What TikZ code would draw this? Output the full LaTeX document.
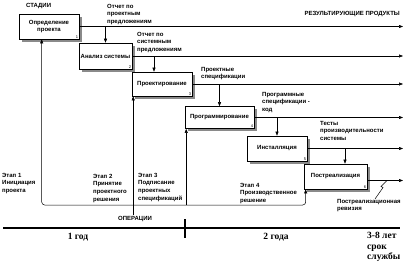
\documentclass[tikz,border=0pt]{standalone}
\usepackage{fontspec}
\setmainfont{Liberation Sans}
\newfontfamily\yearfont{Liberation Serif}
\usetikzlibrary{arrows.meta,positioning,shadows}
\definecolor{Ink}{HTML}{000000}
\definecolor{Shade}{HTML}{8A8A8A}
\newcommand\labfont{\bfseries\fontsize{6}{7.6}\selectfont}

\begin{document}
\begin{tikzpicture}[x=1pt,y=-1pt,
box/.style={draw=Ink,line width=0.6pt,fill=white,font=\labfont,align=center,inner sep=1pt,
  drop shadow={shadow xshift=2.5pt,shadow yshift=-2.5pt,fill=Shade,opacity=1}},
note/.style={font=\labfont,align=left,inner sep=0pt,anchor=north west},
num/.style={font=\fontsize{4}{4}\selectfont,anchor=south east,inner sep=1pt},
flow/.style={-{Triangle[length=4pt,width=3pt]},line width=0.5pt,draw=Ink},
year/.style={font=\yearfont\bfseries\fontsize{9.5}{10.5}\selectfont,align=left,inner sep=0pt}]
\useasboundingbox (0,0) rectangle (404,266);
% stages
\node[box,minimum width=60pt,minimum height=25pt] (b1) at (49,26.5) {Определение\\проекта};
\node[box,minimum width=53pt,minimum height=26pt] (b2) at (105.5,56) {Анализ системы};
\node[box,minimum width=60pt,minimum height=24pt] (b3) at (162,84) {Проектирование};
\node[box,minimum width=69pt,minimum height=22pt] (b4) at (219.5,117.5) {Программирование};
\node[box,minimum width=60pt,minimum height=25pt] (b5) at (277,148.5) {Инсталляция};
\node[box,minimum width=63pt,minimum height=25pt] (b6) at (335.5,176.5) {Постреализация};
\foreach \i in {1,...,6} \node[num] (n\i) at (b\i.south east) {\i};
% titles and labels
\node[note] (stages) at (26,3) {СТАДИИ};
\node[note,anchor=north east] (results) at (400,11) {РЕЗУЛЬТИРУЮЩИЕ ПРОДУКТЫ};
\node[note] (t1) at (107,4) {Отчет по\\проектным\\предложениям};
\node[note] (t2) at (137,32) {Отчет по\\системным\\предложениям};
\node[note] (t3) at (201,67) {Проектные\\спецификации};
\node[note] (t4) at (262,92) {Программные\\спецификации -\\код};
\node[note] (t5) at (320,121) {Тесты\\производительности\\системы};
\node[note] (t6) at (337,199) {Постреализационная\\ревизия};
\node[note] (s1) at (2,173) {Этап 1\\Инициация\\проекта};
\node[note] (s2) at (93,174) {Этап 2\\Принятие\\проектного\\решения};
\node[note] (s3) at (138,173) {Этап 3\\Подписание\\проектных\\спецификаций};
\node[note] (s4) at (240,183) {Этап 4\\Производственное\\решение};
\node[font=\labfont,inner sep=1pt] (ops) at (135,219) {ОПЕРАЦИИ};
% outputs
\coordinate (rim) at (403,0);
\draw[flow] (b1.east) -- (b1.east -| rim);
\draw[flow] (b2.east) -- (b2.east -| rim);
\draw[flow] (b3.east) -- (b3.east -| rim);
\draw[flow] (b4.east) -- (b4.east -| rim);
\draw[flow] (b5.east) -- (b5.east -| rim);
\draw[flow] ([yshift=-4pt]b6.east) coordinate (o6) -- (o6 -| rim);
% hand-over to next stage
\coordinate (d3) at ([xshift=-8pt]b3.north);
\coordinate (d6) at ([xshift=9.5pt]b6.north);
\draw[flow] (b1.east -| b2.north) -- (b2.north);
\draw[flow] (b2.east -| d3) -- (d3);
\draw[flow] (b3.east -| b4.north) -- (b4.north);
\draw[flow] (b4.east -| b5.north) -- (b5.north);
\draw[flow] (b5.east -| d6) -- (d6);
% squiggle to revision label
\coordinate (q) at (387,180.5);
\draw[line width=0.5pt] (q) -- ++(-6,6) -- ++(2,1) -- (t6.north -| 375,0);
% operations
\coordinate (m1) at ([xshift=23pt]b1.south west);
\coordinate (m3) at ([xshift=1.5pt]b3.south west);
\coordinate (m4) at ([xshift=1.5pt]b4.south west);
\coordinate (m6) at ([xshift=2pt]b6.south west);
\coordinate (rail) at (0,205);
\draw[flow,rounded corners=3pt] (m3 |- rail) -| (m1);
\draw[flow,rounded corners=3pt] (m3 |- rail) -| (m6);
\draw[flow] (m4 |- rail) -- (m4);
\draw[flow] (ops.north -| m3) -- (m3);
% time scale
\coordinate (tl) at (3,228);
\coordinate (tr) at (400,228);
\draw[line width=2pt] (tl) -- (tr);
\draw[line width=2pt] (185,219) coordinate (k1) -- (185,238) coordinate (k2);
\node[year] (y1) at (78,237) {1 год};
\node[year] (y2) at (276,237) {2 года};
\node[year,anchor=north west] (y3) at (367,232) {3-8 лет\\срок\\службы};
\end{tikzpicture}
\end{document}
